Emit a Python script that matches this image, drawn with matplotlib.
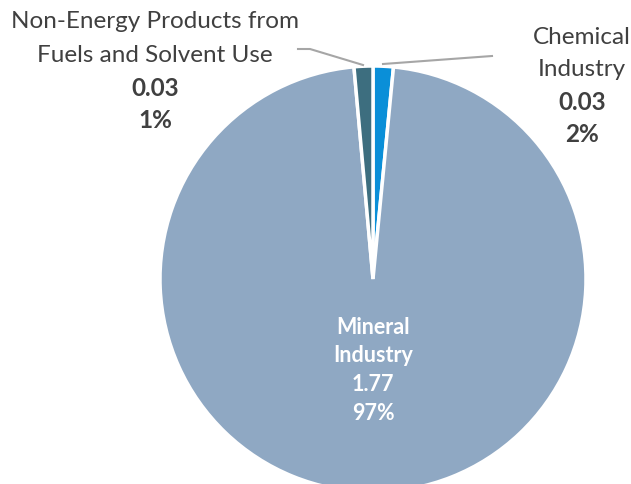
import matplotlib
matplotlib.use("Agg")
import matplotlib.pyplot as plt

plt.rcParams["font.family"] = ["Lato", "DejaVu Sans"]

# slices in clockwise order from 12 o'clock
SECTORS = ["Chemical Industry", "Mineral Industry",
           "Non-Energy Products from Fuels and Solvent Use"]
VALUES = [0.028, 1.77, 0.026]
SHOWN = ["0.03", "1.77", "0.03"]
PCTS = ["2%", "97%", "1%"]
COLORS = ["#0a8fd8", "#8fa8c3", "#3d6e7f"]

TXT = "#404040"
H = 485  # figure height in px, for top-down placement


def Y(y):
    return H - y


fig = plt.figure(figsize=(6.31, 4.85), dpi=100)
ax = fig.add_axes([0, 0, 1, 1])

ax.pie(VALUES, colors=COLORS, startangle=90, counterclock=False,
       center=(373, Y(280)), radius=213,
       wedgeprops=dict(edgecolor="white", linewidth=2.5))
ax.set_xlim(0, 631)
ax.set_ylim(0, H)
ax.set_aspect("auto")
ax.axis("off")

# leader lines
ax.plot([298, 310, 363], [Y(50), Y(50), Y(66)], color="#a6a6a6", lw=1.5)
ax.plot([383, 492], [Y(65), Y(57)], color="#a6a6a6", lw=1.5)

# outer labels
kw = dict(ha="center", va="center", fontsize=17.5, color=TXT)
ax.text(155, Y(22), "Non-Energy Products from", **kw)
ax.text(155, Y(55), "Fuels and Solvent Use", **kw)
ax.text(155, Y(89), SHOWN[2], fontweight="bold", **kw)
ax.text(155, Y(121), PCTS[2], fontweight="bold", **kw)

ax.text(582, Y(38), "Chemical", **kw)
ax.text(582, Y(70), "Industry", **kw)
ax.text(582, Y(102), SHOWN[0], fontweight="bold", **kw)
ax.text(582, Y(134), PCTS[0], fontweight="bold", **kw)

# inside label
for y, s in zip([327, 356, 385, 414], ["Mineral", "Industry", SHOWN[1], PCTS[1]]):
    ax.text(373, Y(y), s, ha="center", va="center", fontsize=15.5,
            color="white", fontweight="bold")

fig.savefig("out.png", dpi=100)
